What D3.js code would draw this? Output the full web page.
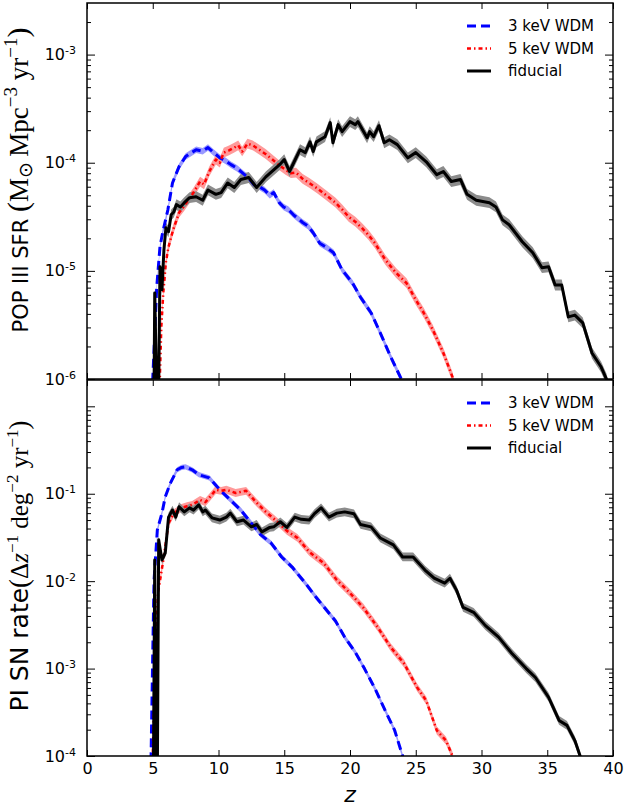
<!DOCTYPE html>
<html>
<head>
<meta charset="utf-8">
<script src="https://cdn.jsdelivr.net/npm/d3@7"></script>
<style>
  body { margin: 0; background: #fff; }
  text { font-family: "DejaVu Sans", sans-serif; }
</style>
</head>
<body>
<svg id="chart" width="626" height="809"></svg>
<script>
// ---- data: [redshift z, value] ----
// top panel: Pop III star formation rate density
const sfr3keV = [[4.95,7e-7],[5.0,1e-6],[5.1,1.9e-6],[5.3,7.0e-6],[5.55,1.67e-5],[5.75,2.25e-5],[6.15,3.67e-5],[6.5,6.5e-5],[7.0,9.2e-5],[7.5,1.14e-4],[8.3,1.32e-4],[8.8,1.28e-4],[9.2,1.38e-4],[9.6,1.25e-4],[10.1,1.11e-4],[10.5,1.05e-4],[10.95,9.6e-5],[11.4,8.9e-5],[11.8,8.1e-5],[12.3,7.2e-5],[12.7,6.25e-5],[13.1,6.0e-5],[13.5,5.6e-5],[13.9,5.0e-5],[14.2,5.3e-5],[14.6,4.3e-5],[14.95,3.9e-5],[15.3,3.7e-5],[15.7,3.3e-5],[16.4,2.8e-5],[16.8,2.6e-5],[17.2,2.25e-5],[17.7,1.8e-5],[18.2,1.65e-5],[18.75,1.47e-5],[19.4,1.02e-5],[20.2,7.7e-6],[20.8,5.7e-6],[21.6,4.1e-6],[22.3,2.67e-6],[23.1,1.6e-6],[23.9,1e-6],[24.1,7e-7]];
const sfr5keV = [[5.5,7e-7],[5.65,3.0e-6],[5.8,6.25e-6],[6.0,1.2e-5],[6.2,1.67e-5],[6.55,2.4e-5],[7.0,3.45e-5],[7.4,4.0e-5],[7.7,4.5e-5],[8.1,5.3e-5],[8.6,6.7e-5],[8.9,6.3e-5],[9.3,8.3e-5],[9.8,1.07e-4],[10.1,1.0e-4],[10.4,1.24e-4],[10.8,1.3e-4],[11.2,1.38e-4],[11.5,1.45e-4],[11.8,1.27e-4],[12.2,1.5e-4],[12.6,1.45e-4],[13.1,1.32e-4],[13.6,1.2e-4],[14.1,1.07e-4],[14.6,9.5e-5],[15.1,8.6e-5],[15.5,8.0e-5],[15.9,8.1e-5],[16.4,7.1e-5],[16.9,6.5e-5],[17.5,5.8e-5],[18.1,5.1e-5],[18.9,4.27e-5],[19.4,3.7e-5],[19.9,3.16e-5],[20.4,2.85e-5],[20.9,2.5e-5],[21.4,2.15e-5],[21.9,1.8e-5],[22.3,1.5e-5],[22.7,1.26e-5],[23.5,9.6e-6],[24.3,7.7e-6],[25.0,5.4e-6],[25.6,4.1e-6],[26.3,2.85e-6],[27.1,1.74e-6],[27.8,1.04e-6],[28.0,8e-7]];
const sfrFiducial = [[5.1,8e-7],[5.15,6.25e-6],[5.3,8e-7],[5.45,8e-7],[5.55,1.09e-5],[5.7,6.7e-6],[5.85,1.56e-5],[6.0,2.5e-5],[6.2,2.3e-5],[6.4,3.3e-5],[6.6,3.5e-5],[6.8,4.1e-5],[7.1,3.9e-5],[7.4,4.27e-5],[7.8,4.75e-5],[8.3,4.85e-5],[8.8,4.5e-5],[9.2,5.6e-5],[9.8,5.1e-5],[10.2,5.3e-5],[10.7,6.5e-5],[11.2,5.9e-5],[11.7,7.0e-5],[12.3,7.3e-5],[12.9,5.9e-5],[13.6,7.4e-5],[14.2,8.6e-5],[14.65,9.6e-5],[15.0,1.07e-4],[15.4,8.3e-5],[16.2,1.32e-4],[16.6,1.24e-4],[16.96,1.56e-4],[17.2,1.27e-4],[17.45,1.56e-4],[18.1,1.74e-4],[18.5,2.35e-4],[18.7,1.53e-4],[19.1,2.25e-4],[19.4,1.94e-4],[20.0,2.4e-4],[20.4,2.25e-4],[20.6,2.4e-4],[21.3,1.7e-4],[21.5,1.94e-4],[21.8,1.74e-4],[22.2,2.2e-4],[22.6,1.53e-4],[23.0,1.63e-4],[23.6,1.47e-4],[24.4,1.11e-4],[25.0,1.24e-4],[25.8,1.02e-4],[26.6,7.75e-5],[27.1,8.3e-5],[27.7,6.7e-5],[28.4,7.0e-5],[28.9,5.1e-5],[29.6,4.5e-5],[30.6,4.27e-5],[31.1,3.9e-5],[31.6,2.96e-5],[32.1,2.67e-5],[33.1,1.86e-5],[33.9,1.47e-5],[34.6,1.07e-5],[35.1,1.09e-5],[35.6,7.4e-6],[36.1,7.4e-6],[36.6,3.75e-6],[37.1,3.9e-6],[37.7,3.3e-6],[38.4,1.74e-6],[39.1,1.29e-6],[39.5,1e-6],[39.7,8e-7]];

// bottom panel: pair-instability supernova rate
const sn3keV = [[4.85,6e-5],[5.0,1.5e-3],[5.1,1.03e-2],[5.35,3.86e-2],[5.7,6.0e-2],[5.95,9.2e-2],[6.35,0.133],[6.85,0.188],[7.2,0.2],[7.5,0.203],[8.0,0.188],[8.5,0.165],[9.3,0.152],[9.7,0.13],[10.1,0.111],[10.9,0.085],[11.7,0.065],[12.5,0.046],[13.2,0.034],[14.0,0.0273],[14.8,0.0189],[15.6,0.0145],[16.6,9.5e-3],[17.4,6.6e-3],[18.1,4.9e-3],[18.9,3.5e-3],[19.6,2.28e-3],[20.4,1.54e-3],[21.1,1.0e-3],[21.9,5.9e-4],[22.6,3.5e-4],[23.4,1.96e-4],[24.0,1e-4],[24.1,8e-5]];
const sn5keV = [[4.95,6e-5],[5.0,1e-4],[5.2,1.5e-3],[5.4,7.3e-3],[5.8,0.0173],[6.2,0.046],[6.6,0.060],[7.2,0.069],[7.6,0.072],[8.0,0.0746],[8.6,0.085],[9.0,0.08],[9.3,0.090],[9.8,0.111],[10.2,0.108],[10.6,0.111],[11.3,0.102],[11.7,0.105],[12.1,0.108],[12.5,0.092],[12.9,0.079],[13.6,0.062],[14.4,0.049],[15.2,0.0376],[16.0,0.0313],[16.9,0.0216],[18.0,0.0161],[19.0,0.0103],[20.0,7.3e-3],[21.0,5.0e-3],[22.1,2.98e-3],[23.1,1.75e-3],[24.1,1.15e-3],[25.1,6.1e-4],[25.8,4.3e-4],[26.6,1.96e-4],[27.3,1.5e-4],[27.8,1e-4],[27.9,8e-5]];
const snFiducial = [[5.05,6e-5],[5.15,0.0175],[5.25,6e-5],[5.35,6e-5],[5.45,0.0297],[5.7,0.0175],[5.95,0.021],[6.2,0.054],[6.5,0.065],[6.75,0.054],[7.0,0.071],[7.4,0.062],[7.8,0.069],[8.1,0.065],[8.5,0.0746],[8.8,0.062],[9.0,0.065],[9.5,0.053],[10.1,0.050],[10.6,0.054],[10.9,0.060],[11.4,0.0478],[11.9,0.050],[12.5,0.0418],[12.9,0.0445],[13.3,0.0366],[13.9,0.0412],[14.2,0.0418],[14.7,0.0478],[15.2,0.0412],[15.8,0.054],[16.3,0.051],[16.9,0.050],[17.3,0.0593],[17.8,0.069],[18.4,0.054],[19.0,0.060],[19.6,0.062],[20.3,0.059],[20.8,0.0445],[21.6,0.0418],[22.3,0.0312],[23.3,0.026],[24.0,0.0189],[24.8,0.0189],[25.7,0.0134],[26.4,0.0108],[27.2,9.5e-3],[27.6,0.0108],[28.1,7.9e-3],[28.6,5.0e-3],[29.4,4.4e-3],[30.3,3.1e-3],[31.3,2.29e-3],[32.3,1.5e-3],[33.4,1.0e-3],[34.1,7.9e-4],[35.1,4.7e-4],[35.9,2.55e-4],[36.5,2.24e-4],[37.1,1.5e-4],[37.5,1e-4],[37.6,8e-5]];

// half width of the shaded scatter bands, in dex
const band3keV = 0.03, band5keV = 0.045, bandFiducial = 0.05;

const legendLabels = ["3 keV WDM", "5 keV WDM", "fiducial"];
const zTicks = [0, 5, 10, 15, 20, 25, 30, 35, 40];
const sfrTicks = [1e-6, 1e-5, 1e-4, 1e-3];
const snTicks = [1e-4, 1e-3, 1e-2, 1e-1, 1];
const snTickLabels = [1e-4, 1e-3, 1e-2, 1e-1];

// ---- layout ----
var svg = d3.select("#chart");
var plot = { left: 87, right: 613 };

var xScale = d3.scaleLinear().domain([0, 40]).range([plot.left, plot.right]);

var styles = [
    { line: "#0000ff", band: "#9a9aff", width: 3, dash: "9,5" },
    { line: "#ff0000", band: "#ff9a9a", width: 2.5, dash: "4,3,1.5,3" },
    { line: "#000000", band: "#8c8c8c", width: 3, dash: null }
];

var panels = [
    { top: 3, bottom: 379, domain: [1e-6, 3e-3], ticks: sfrTicks, labels: sfrTicks,
      series: [sfr3keV, sfr5keV, sfrFiducial], bands: [band3keV, band5keV, bandFiducial],
      legendY: 26, showX: false },
    { top: 380, bottom: 756, domain: [1e-4, 2], ticks: snTicks, labels: snTickLabels,
      series: [sn3keV, sn5keV, snFiducial], bands: [band3keV, band5keV, bandFiducial],
      legendY: 403, showX: true }
];

function minorTicks(domain) {
    var out = [];
    var lo = Math.floor(Math.log10(domain[0])), hi = Math.ceil(Math.log10(domain[1]));
    for (var e = lo; e <= hi; e++) {
        for (var k = 2; k <= 9; k++) {
            var v = k * Math.pow(10, e);
            if (v > domain[0] && v < domain[1]) out.push(v);
        }
    }
    return out;
}

function supLabels(sel, shown) {
    sel.selectAll(".tick text").each(function(d) {
        var t = d3.select(this);
        t.text("");
        if (shown.indexOf(d) < 0) return;
        t.append("tspan").text("10");
        t.append("tspan").attr("dy", "-0.55em").attr("font-size", "11px")
            .text(Math.round(Math.log10(d)));
    });
}

panels.forEach(function(p, i) {
    var yScale = d3.scaleLog().domain(p.domain).range([p.bottom, p.top]);

    svg.append("clipPath").attr("id", "clip" + i)
        .append("rect")
        .attr("x", plot.left).attr("y", p.top)
        .attr("width", plot.right - plot.left).attr("height", p.bottom - p.top);

    var g = svg.append("g").attr("clip-path", "url(#clip" + i + ")");

    // shaded bands first, then the lines
    p.series.forEach(function(s, j) {
        var f = Math.pow(10, p.bands[j]);
        var area = d3.area()
            .x(d => xScale(d[0]))
            .y0(d => yScale(d[1] / f))
            .y1(d => yScale(d[1] * f));
        g.append("path").datum(s)
            .attr("d", area)
            .attr("fill", styles[j].band);
    });

    p.series.forEach(function(s, j) {
        var line = d3.line().x(d => xScale(d[0])).y(d => yScale(d[1]));
        g.append("path").datum(s)
            .attr("d", line)
            .attr("fill", "none")
            .attr("stroke", styles[j].line)
            .attr("stroke-width", styles[j].width)
            .attr("stroke-linejoin", "round")
            .attr("stroke-dasharray", styles[j].dash);
    });

    // y axes (ticks inside on both sides)
    var left = svg.append("g").attr("transform", `translate(${plot.left},0)`)
        .call(d3.axisLeft(yScale).tickValues(p.ticks).tickSize(-8).tickPadding(11));
    supLabels(left, p.labels);
    left.selectAll(".tick text").attr("font-size", "16px").attr("font-family", "DejaVu Sans").attr("fill", "#000");

    svg.append("g").attr("transform", `translate(${plot.left},0)`)
        .call(d3.axisLeft(yScale).tickValues(minorTicks(p.domain)).tickSize(-4).tickFormat(""));
    svg.append("g").attr("transform", `translate(${plot.right},0)`)
        .call(d3.axisRight(yScale).tickValues(p.ticks).tickSize(-8).tickFormat(""));
    svg.append("g").attr("transform", `translate(${plot.right},0)`)
        .call(d3.axisRight(yScale).tickValues(minorTicks(p.domain)).tickSize(-4).tickFormat(""));

    // x axes, top and bottom of each panel
    svg.append("g").attr("transform", `translate(0,${p.top})`)
        .call(d3.axisTop(xScale).tickValues(zTicks).tickSize(-6).tickFormat(""));
    var bottom = svg.append("g").attr("transform", `translate(0,${p.bottom})`)
        .call(d3.axisBottom(xScale).tickValues(zTicks).tickSize(-6).tickPadding(7)
            .tickFormat(p.showX ? d3.format("d") : ""));
    bottom.selectAll(".tick text").attr("font-size", "16px").attr("font-family", "DejaVu Sans").attr("fill", "#000");

    // frame
    svg.append("rect")
        .attr("x", plot.left).attr("y", p.top)
        .attr("width", plot.right - plot.left).attr("height", p.bottom - p.top)
        .attr("fill", "none").attr("stroke", "#000").attr("stroke-width", 1.5);

    // legend
    var legend = svg.append("g").attr("transform", `translate(467,${p.legendY})`);
    legendLabels.forEach(function(lbl, j) {
        legend.append("line")
            .attr("x1", 0).attr("x2", 24)
            .attr("y1", j * 22.5).attr("y2", j * 22.5)
            .attr("stroke", styles[j].line)
            .attr("stroke-width", styles[j].width)
            .attr("stroke-dasharray", styles[j].dash);
        legend.append("text")
            .attr("x", 41).attr("y", j * 22.5)
            .attr("dy", "0.35em")
            .attr("font-size", "15px")
            .text(lbl);
    });
});

svg.selectAll(".domain").remove();
svg.selectAll(".tick line").attr("stroke", "#000").attr("stroke-width", 1);

// ---- axis titles ----
function mathLabel(x, y, parts) {
    var t = svg.append("text")
        .attr("transform", `translate(${x},${y}) rotate(-90)`)
        .attr("text-anchor", "middle");
    parts.forEach(function(pt) {
        t.append("tspan")
            .attr("font-family", pt.serif ? "'Liberation Serif', serif" : "'DejaVu Sans', sans-serif")
            .attr("font-style", pt.italic ? "italic" : "normal")
            .attr("font-size", pt.size + "px")
            .attr("dy", pt.dy || 0)
            .text(pt.t);
    });
}

mathLabel(28, 180, [
    { t: "POP III SFR ", size: 21 },
    { t: "(", serif: true, size: 30 },
    { t: "M", serif: true, size: 27 },
    { t: "\u2299", serif: true, size: 19, dy: 4 },
    { t: "\u2009Mpc", serif: true, size: 27, dy: -4 },
    { t: "\u2212", serif: true, size: 19, dy: -11 },
    { t: "3", serif: true, size: 19 },
    { t: " yr", serif: true, size: 27, dy: 11 },
    { t: "\u2212", serif: true, size: 19, dy: -11 },
    { t: "1", serif: true, size: 19 },
    { t: ")", serif: true, size: 30, dy: 11 }
]);

mathLabel(28, 566, [
    { t: "PI SN rate", size: 25 },
    { t: "(", serif: true, size: 27 },
    { t: "\u0394", serif: true, size: 25 },
    { t: "z", serif: true, italic: true, size: 25 },
    { t: "\u2212", serif: true, size: 17, dy: -10 },
    { t: "1", serif: true, size: 17 },
    { t: " deg", serif: true, size: 25, dy: 10 },
    { t: "\u2212", serif: true, size: 17, dy: -10 },
    { t: "2", serif: true, size: 17 },
    { t: " yr", serif: true, size: 25, dy: 10 },
    { t: "\u2212", serif: true, size: 17, dy: -10 },
    { t: "1", serif: true, size: 17 },
    { t: ")", serif: true, size: 27, dy: 10 }
]);

svg.append("text")
    .attr("x", xScale(20)).attr("y", 802)
    .attr("text-anchor", "middle")
    .attr("font-family", "'Liberation Serif', serif")
    .attr("font-style", "italic")
    .attr("font-size", "22px")
    .text("z");
</script>
</body>
</html>
